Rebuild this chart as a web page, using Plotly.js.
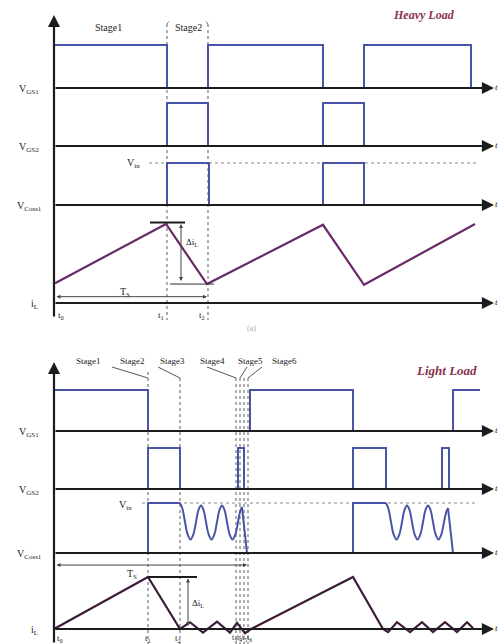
<!DOCTYPE html>
<html>
<head>
<meta charset="utf-8">
<script src="https://cdn.plot.ly/plotly-3.0.1.min.js"></script>
<style>html,body{margin:0;padding:0;background:#fff;}#chart{width:498px;height:644px;}</style>
</head>
<body>
<div id="chart"></div>
<script>
// ---------- DATA (time in drawing units, levels normalised: 0 = low, 1 = high) ----------
// Heavy load
const heavyGs1T = [0, 113, 113, 154, 154, 269, 269, 310, 310, 417, 417];
const heavyGs1V = [1, 1, 0, 0, 1, 1, 0, 0, 1, 1, 0];
const heavyGs2T = [113, 113, 154, 154, null, 269, 269, 310, 310];
const heavyGs2V = [0, 1, 1, 0, null, 0, 1, 1, 0];
const heavyCossT = [113, 113, 155, 155, null, 269, 269, 310, 310];
const heavyCossV = [0, 1, 1, 0, null, 0, 1, 1, 0];
const heavyVinT = [95, 424];
const heavyVinV = [1, 1];
const heavyIlT = [1, 112, 153, 269, 310, 421];
const heavyIlV = [0.25, 1, 0.24, 0.99, 0.23, 1];
const heavyMarkT = [113, 154];               // t1, t2
const heavyTicks = ["t<sub>0</sub>", "t<sub>1</sub>", "t<sub>2</sub>"];

// Light load
const lightGs1T = [0, 94, 94, 196, 196, 299, 299, 399, 399, 426];
const lightGs1V = [1, 1, 0, 0, 1, 1, 0, 0, 1, 1];
const lightGs2T = [94, 94, 126, 126, null, 184, 184, 190, 190, null, 299, 299, 332, 332, null, 388, 388, 395, 395];
const lightGs2V = [0, 1, 1, 0, null, 0, 1, 1, 0, null, 0, 1, 1, 0, null, 0, 1, 1, 0];
const lightCossStepT = [94, 94, 126, null, 299, 299, 332];
const lightCossStepV = [0, 1, 1, null, 0, 1, 1];
const lightWave1T = [126, 128.5, 131, 133.5, 136.5, 139.5, 142, 144.5, 147, 149.5, 152, 154.5, 157.5, 160.5, 163, 165.5, 168, 170.5, 173, 175.5, 178.5, 181.5, 184, 186, 188];
const lightWave1V = [1, 0.88, 0.62, 0.38, 0.27, 0.38, 0.62, 0.86, 0.95, 0.86, 0.62, 0.38, 0.27, 0.38, 0.62, 0.86, 0.95, 0.86, 0.62, 0.38, 0.27, 0.38, 0.62, 0.82, 0.92];
const lightWave2T = [332, 334.5, 337, 339.5, 342.5, 345.5, 348, 350.5, 353, 355.5, 358, 360.5, 363.5, 366.5, 369, 371.5, 374, 376.5, 379, 381.5, 384.5, 387.5, 390, 392, 394];
const lightWave2V = [1, 0.88, 0.62, 0.38, 0.27, 0.38, 0.62, 0.86, 0.95, 0.86, 0.62, 0.38, 0.27, 0.38, 0.62, 0.86, 0.95, 0.86, 0.62, 0.38, 0.27, 0.38, 0.62, 0.8, 0.9];
const lightDropT = [188, 193, null, 394, 399];
const lightDropV = [0.92, 0, null, 0.9, 0];
const lightVinT = [88, 424];
const lightVinV = [1, 1];
const lightIlT = [0, 94, 126, 136, 149, 163, 176, 183, 191, 197, 299, 329, 334, 343, 356, 368, 379, 391, 403, 413, 419];
const lightIlV = [0, 1, 0, 0.13, -0.07, 0.14, -0.07, 0.12, -0.08, 0, 1, 0, -0.06, 0.13, -0.06, 0.13, -0.06, 0.13, -0.06, 0.13, 0.02];
const lightMarkT = [94, 126, 182, 186, 190, 194];   // t1 ... t6
const stageLabels = ["Stage1", "Stage2", "Stage3", "Stage4", "Stage5", "Stage6"];

// ---------- LAYOUT HELPERS ----------
const W = 498, H = 644;
const X0 = 54;                       // pixel of t = 0
function dom(base, high, lo, hi) {
  const s = base - high;
  return [Math.max(0, 1 - (base - lo * s) / H), Math.min(1, 1 - (base - hi * s) / H)];
}
function px(x) { return x / W; }
function py(y) { return 1 - y / H; }

const BLUE = '#4a54a6', AX = '#1c1c1c', DOT = '#7a7a7a';
const serif = 'Liberation Serif, DejaVu Serif, serif';

const rows = [
  // [basePx, highPx, lo, hi]
  [88, 45, -0.2, 1.2], [146, 103, -0.2, 1.2], [205, 163, -0.2, 1.2], [303, 224, -0.2, 1.3],
  [431, 390, -0.2, 1.2], [489, 448, -0.2, 1.2], [553, 503, -0.2, 1.2], [629, 577, -0.25, 1.4]
];

const layout = {
  width: W, height: H, margin: {l: 0, r: 0, t: 0, b: 0},
  paper_bgcolor: '#fff', plot_bgcolor: 'rgba(0,0,0,0)', showlegend: false,
  xaxis: {range: [-X0, W - X0], domain: [0, 1], visible: false, fixedrange: true, anchor: 'y'},
  annotations: [], shapes: []
};
rows.forEach((r, i) => {
  const key = i === 0 ? 'yaxis' : 'yaxis' + (i + 1);
  layout[key] = {domain: dom(r[0], r[1], r[2], r[3]), range: [r[2], r[3]], visible: false, fixedrange: true, anchor: 'x'};
});
const yid = i => i === 0 ? 'y' : 'y' + (i + 1);

// ---------- TRACES ----------
function tr(x, y, yi, color, width, extra) {
  return {x: x, y: y, xaxis: 'x', yaxis: yid(yi), mode: 'lines', hoverinfo: 'skip',
    connectgaps: false, line: Object.assign({color: color, width: width}, extra || {})};
}
const data = [
  tr(heavyVinT, heavyVinV, 2, '#8a8a8a', 1, {dash: 'dot'}),
  tr(heavyGs1T, heavyGs1V, 0, BLUE, 2),
  tr(heavyGs2T, heavyGs2V, 1, BLUE, 2),
  tr(heavyCossT, heavyCossV, 2, BLUE, 2),
  tr(heavyIlT, heavyIlV, 3, '#6a2a68', 2.2),
  tr(lightVinT, lightVinV, 6, '#8a8a8a', 1, {dash: 'dot'}),
  tr(lightGs1T, lightGs1V, 4, BLUE, 2),
  tr(lightGs2T, lightGs2V, 5, BLUE, 2),
  tr(lightCossStepT, lightCossStepV, 6, BLUE, 2),
  tr(lightWave1T, lightWave1V, 6, BLUE, 2, {shape: 'spline', smoothing: 1}),
  tr(lightWave2T, lightWave2V, 6, BLUE, 2, {shape: 'spline', smoothing: 1}),
  tr(lightDropT, lightDropV, 6, BLUE, 2),
  tr(lightIlT, lightIlV, 7, '#3b1c3a', 2.2)
];

// ---------- AXES (arrows) ----------
const A = layout.annotations, S = layout.shapes;
function txt(s, x, y, size, extra) {
  A.push(Object.assign({text: s, x: px(x), y: py(y), xref: 'paper', yref: 'paper', showarrow: false,
    xanchor: 'center', yanchor: 'middle',
    font: {family: serif, size: size || 10, color: '#222'}}, extra || {}));
}
rows.forEach((r, i) => {
  A.push({x: 440, y: 0, xref: 'x', yref: yid(i), ax: 0, ay: 0, axref: 'x', ayref: yid(i),
    text: '', showarrow: true, arrowhead: 2, arrowsize: 1.1, arrowwidth: 2.2, arrowcolor: AX, standoff: 0});
  txt('<i>t</i>', 496, r[0] - 1, 9);
});
// vertical axes
A.push({x: 0, y: py(15), xref: 'x', yref: 'paper', ax: 0, ay: 303, axref: 'pixel', ayref: 'pixel',
  text: '', showarrow: true, arrowhead: 2, arrowsize: 1.1, arrowwidth: 2.2, arrowcolor: AX, standoff: 0});
A.push({x: 0, y: py(362), xref: 'x', yref: 'paper', ax: 0, ay: 282, axref: 'pixel', ayref: 'pixel',
  text: '', showarrow: true, arrowhead: 2, arrowsize: 1.1, arrowwidth: 2.2, arrowcolor: AX, standoff: 0});

// dotted stage markers
heavyMarkT.forEach(t => S.push({type: 'line', xref: 'x', yref: 'paper', x0: t, x1: t, y0: py(24), y1: py(320),
  line: {color: DOT, width: 1.2, dash: 'dot'}, layer: 'below'}));
lightMarkT.forEach((t, i) => S.push({type: 'line', xref: 'x', yref: 'paper', x0: t, x1: t,
  y0: py(i === 0 ? 372 : 378), y1: py(644), line: {color: DOT, width: 1.2, dash: 'dot'}, layer: 'below'}));

// stage bracket strokes (light load)
[[112, 367, 148, 378], [158, 367, 180, 378], [207, 367, 236, 378], [247, 367, 240, 378], [262, 367, 248, 378]]
  .forEach(s => S.push({type: 'line', xref: 'paper', yref: 'paper', x0: px(s[0]), y0: py(s[1]), x1: px(s[2]), y1: py(s[3]),
    line: {color: '#555', width: 1}}));
// heavy stage2 bracket corners
[[167, 24, 170, 20], [208, 24, 205, 20]].forEach(s => S.push({type: 'line', xref: 'paper', yref: 'paper',
  x0: px(s[0]), y0: py(s[1]), x1: px(s[2]), y1: py(s[3]), line: {color: '#777', width: 1, dash: 'dot'}}));

// reference lines & double arrows (heavy)
S.push({type: 'line', xref: 'x', yref: 'y4', x0: 96, x1: 131, y0: 1.02, y1: 1.02, line: {color: AX, width: 2}});
S.push({type: 'line', xref: 'x', yref: 'y4', x0: 116, x1: 160, y0: 0.24, y1: 0.24, line: {color: '#333', width: 1}});
A.push({x: 127, y: 1.0, xref: 'x', yref: 'y4', ax: 127, ay: 0.26, axref: 'x', ayref: 'y4', text: '', showarrow: true,
  arrowhead: 2, startarrowhead: 2, arrowside: 'end+start', arrowsize: 0.8, arrowwidth: 1, arrowcolor: '#444', standoff: 0, startstandoff: 0});
A.push({x: 153, y: 0.08, xref: 'x', yref: 'y4', ax: 1, ay: 0.08, axref: 'x', ayref: 'y4', text: '', showarrow: true,
  arrowhead: 2, startarrowhead: 2, arrowside: 'end+start', arrowsize: 0.8, arrowwidth: 1, arrowcolor: '#444', standoff: 0, startstandoff: 0});
// reference lines & double arrows (light)
S.push({type: 'line', xref: 'x', yref: 'y8', x0: 94, x1: 143, y0: 1.0, y1: 1.0, line: {color: AX, width: 2}});
A.push({x: 134, y: 0.97, xref: 'x', yref: 'y8', ax: 134, ay: 0.03, axref: 'x', ayref: 'y8', text: '', showarrow: true,
  arrowhead: 2, startarrowhead: 2, arrowside: 'end+start', arrowsize: 0.8, arrowwidth: 1, arrowcolor: '#444', standoff: 0, startstandoff: 0});
A.push({x: 193, y: 1.23, xref: 'x', yref: 'y8', ax: 1, ay: 1.23, axref: 'x', ayref: 'y8', text: '', showarrow: true,
  arrowhead: 2, startarrowhead: 2, arrowside: 'end+start', arrowsize: 0.8, arrowwidth: 1, arrowcolor: '#444', standoff: 0, startstandoff: 0});

// ---------- TEXT ----------
const yLabels = ["V<sub>GS1</sub>", "V<sub>GS2</sub>", "V<sub>Coss1</sub>", "i<sub>L</sub>"];
[[88, 146, 205, 303], [431, 489, 553, 629]].forEach(set => {
  set.forEach((y, i) => txt(yLabels[i], i === 3 ? 40 : 29, y + 1, 10, {xanchor: i === 3 ? 'right' : 'center'}));
});
txt("Stage1", 108, 28, 10);
txt("Stage2", 188, 28, 10);
txt("<b><i>Heavy Load</i></b>", 424, 15, 12, {font: {family: serif, size: 12, color: '#8b3150'}});
txt("<b><i>Light Load</i></b>", 446, 370, 13, {font: {family: serif, size: 13, color: '#8b3150'}});
txt("V<sub>in</sub>", 142, 164, 10, {xanchor: 'right'});
txt("V<sub>in</sub>", 134, 505, 10, {xanchor: 'right'});
txt("T<sub>S</sub>", 125, 292, 10);
txt("Δi<sub>L</sub>", 192, 242, 9);
txt("T<sub>S</sub>", 132, 574, 10);
txt("Δi<sub>L</sub>", 198, 603, 9);
txt(heavyTicks[0], 61, 316, 9);
heavyMarkT.forEach((t, i) => txt(heavyTicks[i + 1], X0 + t - 6, 316, 9));
txt("t<sub>0</sub>", 60, 638, 9);
txt("t<sub>1</sub>", X0 + lightMarkT[0], 638, 9);
txt("t<sub>2</sub>", X0 + lightMarkT[1] - 2, 638, 9);
txt("t<sub>3</sub>t<sub>4</sub>t<sub>5</sub>t<sub>6</sub>", X0 + lightMarkT[3] + 2, 638, 8);
txt("(a)", 252, 328, 8, {font: {family: serif, size: 8, color: '#aaa'}});
const stageX = [88, 132, 172, 212, 250, 284];
stageLabels.forEach((s, i) => txt(s, stageX[i], 361, 9));

Plotly.newPlot('chart', data, layout, {staticPlot: true, displayModeBar: false});
</script>
</body>
</html>
